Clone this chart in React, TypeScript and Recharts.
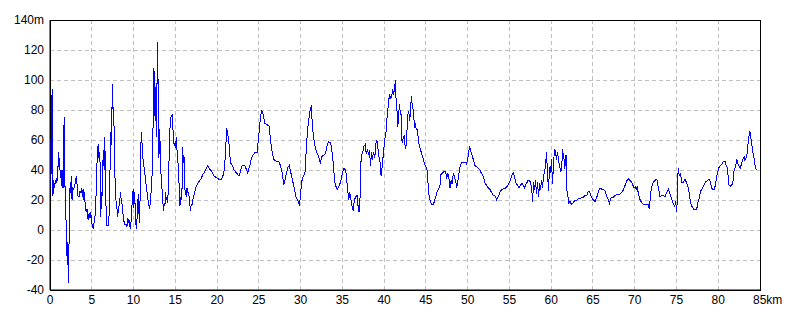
import React from "react";
import { LineChart, Line, XAxis, YAxis, CartesianGrid, ReferenceArea } from "recharts";

const distKm: number[] = [
  0, 0.05, 0.1, 0.17, 0.25, 0.35, 0.45, 0.55, 0.65, 0.75, 0.85, 0.92, 1.0, 1.08, 1.14, 1.24, 1.36, 1.44, 1.5, 1.56, 1.62, 1.72, 1.8, 1.88, 1.98, 2.06, 2.14, 2.2, 2.28, 2.34, 2.44, 2.5, 2.56, 2.64, 2.72, 2.84, 2.96, 3.04, 3.16, 3.24, 3.32, 3.48, 3.6, 3.72, 3.8, 3.88, 3.96, 4.04, 4.12, 4.2, 4.32, 4.44, 4.56, 4.68, 4.8, 4.88, 5.0, 5.08, 5.16, 5.28, 5.4, 5.48, 5.56, 5.64, 5.76, 5.84, 5.92, 6.0, 6.08, 6.16, 6.2, 6.28, 6.4, 6.48, 6.56, 6.64, 6.72, 6.8, 7.04, 7.08, 7.2, 7.28, 7.34, 7.4, 7.48, 7.56, 7.62, 7.72, 7.8, 7.92, 8.04, 8.08, 8.2, 8.32, 8.44, 8.52, 8.64, 8.72, 8.84, 8.96, 9.12, 9.2, 9.32, 9.4, 9.52, 9.6, 9.72, 9.8, 9.88, 9.96, 10.04, 10.12, 10.2, 10.28, 10.36, 10.44, 10.52, 10.6, 10.68, 10.76, 10.84, 10.92, 11.0, 11.08, 11.2, 11.32, 11.44, 11.56, 11.68, 11.8, 11.92, 12.04, 12.16, 12.28, 12.36, 12.44, 12.52, 12.58, 12.64, 12.72, 12.8, 12.88, 12.96, 13.04, 13.12, 13.2, 13.28, 13.4, 13.52, 13.6, 13.68, 13.76, 13.84, 13.92, 14.0, 14.08, 14.16, 14.24, 14.32, 14.44, 14.56, 14.64, 14.72, 14.8, 14.92, 15.04, 15.12, 15.2, 15.36, 15.48, 15.56, 15.64, 15.72, 15.8, 15.86, 15.96, 16.04, 16.12, 16.24, 16.32, 16.4, 16.52, 16.68, 16.8, 16.92, 17.04, 17.16, 17.28, 17.5, 17.8, 18.06, 18.3, 18.65, 18.85, 19.05, 19.25, 19.45, 19.64, 19.9, 20.16, 20.56, 20.76, 20.9,
  21.0, 21.16, 21.28, 21.4, 21.52, 21.68, 21.84, 22.04, 22.32, 22.64, 22.84, 23.0, 23.32, 23.68, 23.92, 24.12, 24.32, 24.56, 24.8, 24.96, 25.12, 25.32, 25.52, 25.72, 26.04, 26.2, 26.4, 26.6, 26.8, 27.04, 27.36, 27.52, 27.76, 28.0, 28.16, 28.32, 28.48, 28.64, 28.84, 29.04, 29.24, 29.44, 29.64, 29.84, 29.96, 30.12, 30.32, 30.52, 30.64, 30.8, 30.96, 31.12, 31.28, 31.4, 31.52, 31.68, 31.92, 32.16, 32.36, 32.56, 32.8, 33.0, 33.16, 33.36, 33.6, 33.76, 33.92, 34.08, 34.24, 34.4, 34.56, 34.72, 34.88, 35.04, 35.2, 35.4, 35.52, 35.64, 35.76, 35.88, 36.0, 36.16, 36.28, 36.44, 36.6, 36.76, 36.88, 37.0, 37.12,
  37.25, 37.45, 37.6, 37.73, 37.85, 38.0, 38.13, 38.25, 38.37, 38.49, 38.6, 38.73, 38.88, 39.0, 39.12, 39.24, 39.36, 39.48, 39.56, 39.64, 39.76, 39.88, 40.0, 40.12, 40.24, 40.32, 40.44, 40.56, 40.68, 40.8, 40.92, 41.0, 41.12, 41.24, 41.35, 41.43, 41.55, 41.63, 41.71, 41.83, 41.95, 42.07, 42.15, 42.27, 42.39, 42.47, 42.59, 42.71, 42.83, 42.95, 43.07, 43.15, 43.27, 43.39, 43.51, 43.63, 43.75, 43.86, 43.98, 44.1, 44.22, 44.38, 44.54, 44.7, 44.86, 45.02, 45.18, 45.3, 45.42, 45.54, 45.7, 45.9, 46.06, 46.22, 46.37, 46.53, 46.69, 46.81, 46.97, 47.17, 47.37, 47.49, 47.61, 47.73, 47.89, 48.01, 48.13, 48.29, 48.41, 48.53, 48.69, 48.8, 48.96, 49.12, 49.32, 49.52, 49.72, 49.88, 50.0, 50.12, 50.24, 50.36, 50.52, 50.68, 50.88, 51.08, 51.31, 51.47, 51.63, 51.79, 51.95, 52.11, 52.27, 52.47, 52.67, 52.87, 53.07, 53.27, 53.47, 53.63, 53.79, 53.94, 54.14, 54.34, 54.54, 54.74, 54.9, 55.1, 55.26, 55.46, 55.58, 55.74, 55.94, 56.14, 56.33, 56.53, 56.65, 56.81, 56.93, 57.05, 57.21, 57.37, 57.53, 57.69, 57.77, 57.89, 58.01, 58.13, 58.25, 58.37, 58.49, 58.61, 58.73, 58.84, 58.96, 59.08, 59.2, 59.32, 59.44, 59.56, 59.68, 59.8, 59.92, 60.04, 60.16, 60.28, 60.4, 60.52, 60.63, 60.75, 60.87, 60.99,
  61.16, 61.28, 61.36, 61.44, 61.56, 61.64, 61.72, 61.8, 61.87, 61.99, 62.11, 62.27, 62.43, 62.59, 62.75, 62.91, 63.07, 63.27, 63.47, 63.67, 63.87, 64.07, 64.27, 64.47, 64.59, 64.75, 64.91, 65.08, 65.27, 65.47, 65.67, 65.87, 66.07, 66.27, 66.46, 66.66, 66.86, 66.98, 67.14, 67.3, 67.46, 67.66, 67.86, 68.06, 68.26, 68.46, 68.66, 68.86, 69.06, 69.25, 69.45, 69.61, 69.77, 69.93, 70.05, 70.17, 70.29, 70.45, 70.65, 70.85, 71.05, 71.25, 71.45, 71.6, 71.76, 71.88, 72.04, 72.24, 72.44, 72.64, 72.84, 73.04, 73.23, 73.43, 73.63, 73.83, 74.03, 74.23, 74.43, 74.63, 74.79, 74.91, 75.03, 75.11, 75.2, 75.35, 75.47, 75.63, 75.83, 76.03, 76.23, 76.43, 76.55, 76.67, 76.83, 77.03, 77.23, 77.43, 77.55, 77.71, 77.91, 78.1, 78.3, 78.5, 78.7, 78.9, 79.07, 79.19, 79.35, 79.55, 79.71, 79.87, 80.03, 80.23, 80.43, 80.63, 80.83, 80.95, 81.11, 81.27, 81.43, 81.62, 81.74, 81.9, 82.06, 82.22, 82.34, 82.46, 82.62, 82.78, 82.94, 83.1, 83.18, 83.3, 83.42, 83.54, 83.66, 83.78, 83.9, 84.02, 84.14, 84.26, 84.38, 84.5, 84.6,
];

const elevM: number[] = [
  52, 60, 28, 58, 94, 23, 33, 28, 33, 32, 35, 33, 52, 42, 48, 35, 40, 29, 40, 28, 63, 75, 27, 12, -2, -23, -8, -35, -8, 23, 32, 25, 36, 20, 28, 27, 30, 32, 36, 30, 23, 22, 26, 25, 28, 22, 27, 20, 25, 18, 12, 14, 7, 11, 8, 12, 5, 3, 1, 5, 10, 18, 30, 47, 57, 48, 52, 44, 9, 25, 15, 38, 53, 40, 62, 35, 12, 3, 3, 13, 44, 65, 57, 75, 97, 77, 82, 53, 30, 18, 13, 9, 14, 18, 25, 20, 17, 12, 6, 4, 4, 2, 8, 5, 6, 1, 6, 15, 22, 27, 15, 25, 15, 4, 1, 10, 20, 24, 5, 14, 42, 65, 60, 50, 44, 40, 33, 28, 22, 18, 14, 20, 30, 44, 80, 108, 96, 73, 95, 62, 93, 125, 86, 48, 67, 55, 38, 28, 18, 13, 18, 16, 25, 20, 22, 18, 27, 44, 63, 75, 76, 77, 67, 58, 57, 55, 62, 54, 42, 27, 16, 22, 20, 25, 55, 45, 50, 28, 25, 22, 28, 25, 22, 13, 17, 17, 22, 24, 29, 32, 34, 37, 40, 43, 41, 40, 38, 36, 35, 34, 34, 37, 42,
  51, 68, 64, 60, 50, 44, 43, 40, 38, 36, 40, 43, 43, 38, 43, 48, 50, 52, 52, 61, 71, 80, 77, 71, 70, 70, 60, 52, 47, 46, 46, 44, 39, 30, 34, 38, 42, 43, 38, 33, 28, 22, 20, 17, 21, 32, 36, 38, 50, 64, 73, 79, 83, 71, 63, 57, 52, 49, 45, 49, 50, 51, 56, 59, 58, 52, 44, 32, 29, 27, 29, 31, 34, 39, 41, 40, 33, 27, 20, 25, 21, 16, 13, 20, 22, 23, 16, 12, 22,
  49, 52, 56, 57, 51, 53, 51, 53, 43, 52, 47, 52, 48, 57, 60, 56, 49, 47, 42, 36, 42, 49, 56, 62, 66, 73, 80, 87, 90, 88, 89, 94, 91, 93, 100, 87, 79, 69, 73, 84, 77, 77, 58, 61, 63, 58, 54, 63, 77, 79, 73, 80, 89, 81, 80, 68, 70, 67, 67, 60, 56, 53, 50, 47, 44, 42, 39, 27, 21, 19, 17, 17, 20, 23, 26, 27, 30, 37, 38, 39, 39, 34, 38, 36, 28, 33, 31, 38, 36, 33, 29, 31, 38, 43, 45, 45, 45, 44, 47, 52, 56, 53, 50, 47, 43, 42, 41, 40, 38, 37, 34, 31, 30, 28, 27, 25, 23, 23, 20, 22, 24, 26, 27, 28, 28, 29, 31, 33, 36, 38, 36, 32, 30, 28, 30, 31, 30, 28, 30, 31, 33, 33, 32, 26, 19, 32, 27, 33, 24, 32, 22, 31, 27, 33, 28, 36, 38, 43, 52, 38, 26, 42, 38, 47, 31, 44, 54, 52, 47, 52, 47, 43,
  39, 44, 54, 50, 47, 41, 49, 50, 27, 23, 18, 19, 17, 18, 19, 20, 20, 21, 21, 22, 22, 23, 23, 26, 26, 23, 21, 20, 19, 22, 26, 28, 27, 27, 26, 22, 20, 18, 21, 22, 22, 23, 24, 24, 24, 25, 27, 30, 33, 34, 33, 32, 30, 28, 29, 27, 29, 24, 20, 18, 17, 17, 17, 17, 14, 23, 29, 32, 33, 34, 28, 22, 23, 23, 22, 25, 27, 24, 21, 17, 16, 19, 12, 23, 41, 36, 38, 32, 32, 34, 31, 28, 24, 18, 16, 14, 14, 14, 18, 21, 26, 28, 30, 32, 33, 34, 32, 28, 27, 27, 32, 37, 41, 43, 44, 46, 46, 43, 41, 30, 29, 30, 31, 40, 42, 47, 44, 43, 41, 44, 47, 49, 46, 48, 49, 56, 62, 66, 62, 57, 52, 49, 44, 41, 40,
];

const xTicks: number[] = [0, 5, 10, 15, 20, 25, 30, 35, 40, 45, 50, 55, 60, 65, 70, 75, 80, 85];
const yTicks: number[] = [-40, -20, 0, 20, 40, 60, 80, 100, 120, 140];

const data = distKm.map((d, i) => ({ d, e: elevM[i] }));

const FONT = "'Liberation Sans', Arial, sans-serif";

const XTick = (props: any) => {
  const { x, payload } = props;
  const v = payload.value;
  if (v === 85) {
    return (
      <text x={x - 7} y={300} textAnchor="start" dominantBaseline="central" fontFamily={FONT} fontSize={12} fill="#000">
        85km
      </text>
    );
  }
  return (
    <text x={x} y={300} textAnchor="middle" dominantBaseline="central" fontFamily={FONT} fontSize={12} fill="#000">
      {v}
    </text>
  );
};

const YTick = (props: any) => {
  const { y, payload } = props;
  const v = payload.value;
  return (
    <text x={44} y={y} textAnchor="end" dominantBaseline="central" fontFamily={FONT} fontSize={12} fill="#000">
      {v === 140 ? "140m" : v}
    </text>
  );
};

export default function App() {
  return (
    <div style={{ position: "absolute", left: 0, top: 0, width: 800, height: 320, background: "#fff" }}>
      <LineChart width={800} height={320} data={data} margin={{ top: 20, right: 40, bottom: 0, left: 0 }}>
        <CartesianGrid stroke="#c0c0c0" strokeDasharray="4 3" shapeRendering="crispEdges" />
        <XAxis
          type="number"
          dataKey="d"
          domain={[0, 85]}
          ticks={xTicks}
          interval={0}
          height={30}
          tickLine={false}
          axisLine={{ stroke: "#000" }}
          tick={<XTick />}
          allowDataOverflow
        />
        <YAxis
          type="number"
          domain={[-40, 140]}
          ticks={yTicks}
          interval={0}
          width={50}
          tickLine={false}
          axisLine={{ stroke: "#000" }}
          tick={<YTick />}
          allowDataOverflow
        />
        <Line
          type="linear"
          dataKey="e"
          stroke="#0000ff"
          strokeWidth={1}
          dot={false}
          activeDot={false}
          isAnimationActive={false}
          shapeRendering="crispEdges"
        />
        <ReferenceArea x1={0} x2={85} y1={-40} y2={140} fill="none" fillOpacity={0} stroke="#000" strokeWidth={1} shapeRendering="crispEdges" />
      </LineChart>
    </div>
  );
}
